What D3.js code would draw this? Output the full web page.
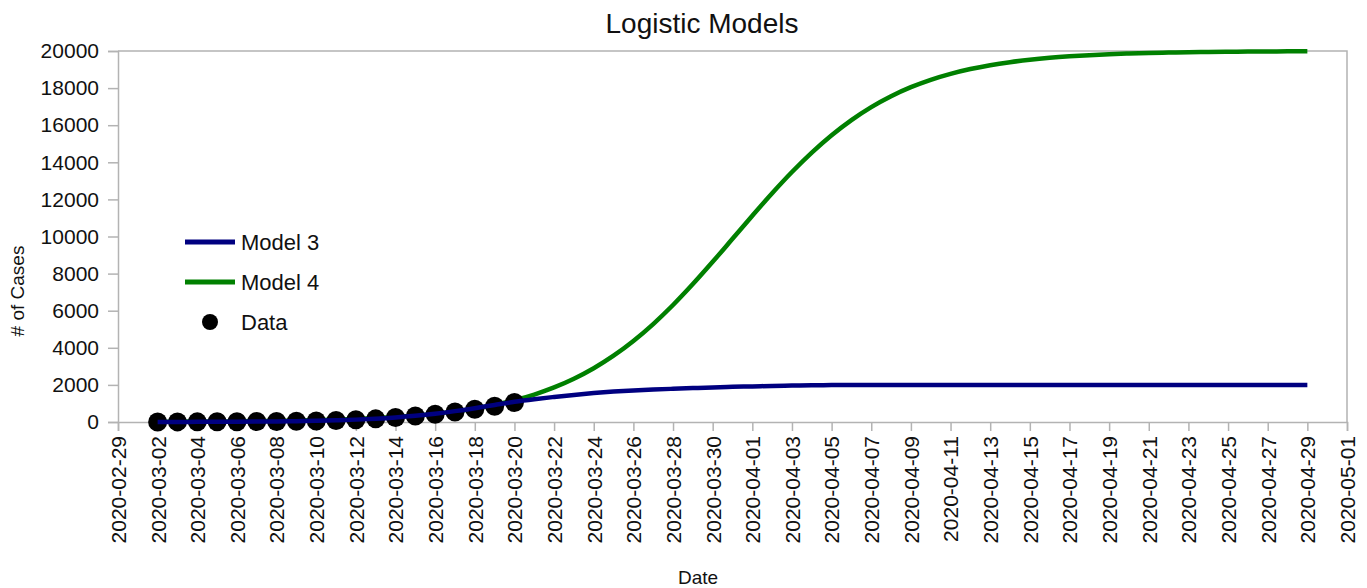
<!DOCTYPE html>
<html>
<head>
<meta charset="utf-8">
<script src="https://cdn.jsdelivr.net/npm/d3@7"></script>
<style>
  html, body { margin: 0; padding: 0; background: #fff; }
  svg { display: block; font-family: "Liberation Sans", Arial, sans-serif; }
</style>
</head>
<body>
<svg id="chart" width="1367" height="588"></svg>
<script>
// ---- data ----
const dataStart = "2020-03-02";
const dataCases = [3, 5, 8, 12, 16, 22, 30, 40, 55, 80, 120, 170, 240, 320, 420, 540, 690, 850, 1050];
const modelStart = "2020-03-02";
const model3 = [4, 5, 8, 11, 16, 22, 32, 46, 65, 91, 128, 179, 247, 336, 449, 587, 746, 920, 1090, 1230,
  1350, 1460, 1560, 1640, 1700, 1750, 1790, 1830, 1865, 1895, 1920, 1945, 1965, 1980, 1990, 1995, 1997, 1998, 1999, 1999,
  2000, 2000, 2000, 2000, 2000, 2000, 2000, 2000, 2000, 2000, 2000, 2000, 2000, 2000, 2000, 2000, 2000, 2000, 2000];
const model4 = [14, 18, 23, 29, 38, 48, 62, 79, 102, 131, 167, 214, 274, 351, 448, 572, 728, 927, 1173, 1481,
  1864, 2332, 2898, 3574, 4368, 5280, 6306, 7434, 8634, 9875, 11119, 12331, 13475, 14522, 15459, 16277, 16976, 17564, 18050, 18448,
  18770, 19029, 19236, 19399, 19529, 19632, 19712, 19775, 19824, 19863, 19893, 19917, 19935, 19950, 19961, 19970, 19977, 19982, 19986];
const xTickLabels = ["2020-02-29","2020-03-02","2020-03-04","2020-03-06","2020-03-08","2020-03-10","2020-03-12","2020-03-14",
  "2020-03-16","2020-03-18","2020-03-20","2020-03-22","2020-03-24","2020-03-26","2020-03-28","2020-03-30","2020-04-01",
  "2020-04-03","2020-04-05","2020-04-07","2020-04-09","2020-04-11","2020-04-13","2020-04-15","2020-04-17","2020-04-19",
  "2020-04-21","2020-04-23","2020-04-25","2020-04-27","2020-04-29","2020-05-01"];
const yTicks = [0, 2000, 4000, 6000, 8000, 10000, 12000, 14000, 16000, 18000, 20000];
const seriesNames = ["Model 3", "Model 4", "Data"];
const seriesColors = ["#000080", "#008000", "#000000"];

// ---- layout ----
const parse = d3.utcParse("%Y-%m-%d");
const m = { left: 118, right: 1347, top: 51, bottom: 422 };
const svg = d3.select("#chart");

const x = d3.scaleUtc()
  .domain([parse(xTickLabels[0]), parse(xTickLabels[xTickLabels.length - 1])])
  .range([m.left, m.right]);
const y = d3.scaleLinear().domain([0, 20000]).range([m.bottom, m.top]);

const dateAt = (start, i) => d3.utcDay.offset(parse(start), i);
const m3 = model3.map((v, i) => ({ d: dateAt(modelStart, i), v }));
const m4 = model4.map((v, i) => ({ d: dateAt(modelStart, i), v }));
const pts = dataCases.map((v, i) => ({ d: dateAt(dataStart, i), v }));

const gridColor = "#b3b3b3";

// frame (top & right)
svg.append("path")
  .attr("d", `M${m.left},${y(20000)}H${m.right}V${m.bottom}`)
  .attr("fill", "none").attr("stroke", gridColor).attr("stroke-width", 1.5);

// y axis
const yAxis = svg.append("g").attr("transform", `translate(${m.left},0)`)
  .call(d3.axisLeft(y).tickValues(yTicks).tickSize(10).tickPadding(9).tickFormat(d3.format("d")));
yAxis.select(".domain").attr("stroke", gridColor).attr("stroke-width", 1.5);
yAxis.selectAll(".tick line").attr("stroke", gridColor).attr("stroke-width", 1.5);
yAxis.selectAll(".tick text").attr("font-size", 21).attr("fill", "#111").attr("font-family", "Liberation Sans, Arial, sans-serif");

// x axis
const xAxis = svg.append("g").attr("transform", `translate(0,${m.bottom})`)
  .call(d3.axisBottom(x).tickValues(xTickLabels.map(parse)).tickSize(9).tickFormat(d3.utcFormat("%Y-%m-%d")));
xAxis.select(".domain").attr("stroke", gridColor).attr("stroke-width", 1.5);
xAxis.selectAll(".tick line").attr("stroke", gridColor).attr("stroke-width", 1.5);
xAxis.selectAll(".tick text")
  .attr("font-size", 21).attr("fill", "#111").attr("font-family", "Liberation Sans, Arial, sans-serif")
  .attr("text-anchor", "end")
  .attr("transform", "rotate(-90)")
  .attr("x", -14).attr("y", 0).attr("dy", "0.35em");

// lines
const line = d3.line().x(d => x(d.d)).y(d => y(d.v)).curve(d3.curveMonotoneX);
svg.append("path").datum(m4).attr("d", line)
  .attr("fill", "none").attr("stroke", seriesColors[1]).attr("stroke-width", 4.5).attr("stroke-linejoin", "round");

// data points
svg.append("g").selectAll("circle").data(pts).join("circle")
  .attr("cx", d => x(d.d)).attr("cy", d => y(d.v)).attr("r", 9.5)
  .attr("fill", seriesColors[2]);

// model 3 drawn over the dots, as in the reference
svg.append("path").datum(m3).attr("d", line)
  .attr("fill", "none").attr("stroke", seriesColors[0]).attr("stroke-width", 4.5).attr("stroke-linejoin", "round");

// title
svg.append("text").attr("x", 702).attr("y", 33).attr("text-anchor", "middle")
  .attr("font-size", 28).attr("fill", "#111").text("Logistic Models");

// axis titles
svg.append("text").attr("transform", "translate(24,291) rotate(-90)").attr("text-anchor", "middle")
  .attr("font-size", 19).attr("fill", "#111").text("# of Cases");
svg.append("text").attr("x", 698).attr("y", 584).attr("text-anchor", "middle")
  .attr("font-size", 19).attr("fill", "#111").text("Date");

// legend
const legend = svg.append("g");
const legY = [242, 282, 322];
seriesNames.forEach((name, i) => {
  if (i < 2) {
    legend.append("line").attr("x1", 185).attr("x2", 235).attr("y1", legY[i]).attr("y2", legY[i])
      .attr("stroke", seriesColors[i]).attr("stroke-width", 5);
  } else {
    legend.append("circle").attr("cx", 210).attr("cy", legY[i]).attr("r", 8).attr("fill", seriesColors[i]);
  }
  legend.append("text").attr("x", 241).attr("y", legY[i]).attr("dy", "0.35em")
    .attr("font-size", 22).attr("fill", "#111").text(name);
});
</script>
</body>
</html>
